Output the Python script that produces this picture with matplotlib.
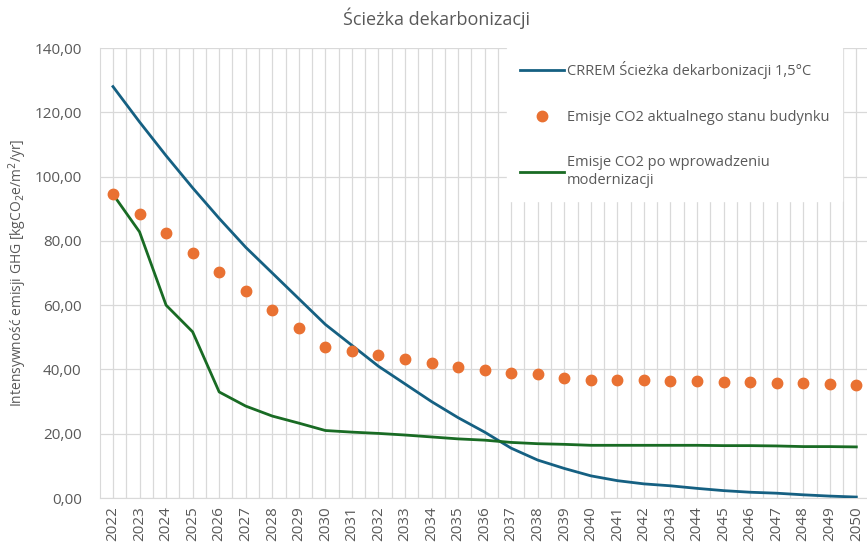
import matplotlib.pyplot as plt
import numpy as np

plt.rcParams['font.family'] = ['Open Sans', 'DejaVu Sans']

years = [str(y) for y in range(2022, 2051)]

# CRREM 1.5C decarbonisation pathway
crrem = [128.0, 117.0, 106.5, 96.5, 87.0, 78.0, 70.0, 62.0, 54.0, 47.5,
         41.0, 35.5, 30.0, 25.0, 20.5, 15.5, 11.8, 9.2, 6.9, 5.4,
         4.4, 3.8, 3.0, 2.3, 1.8, 1.5, 1.0, 0.6, 0.3]

# current building emissions
current = [94.5, 88.5, 82.3, 76.1, 70.4, 64.4, 58.5, 52.8, 46.9, 45.7,
           44.4, 43.1, 41.9, 40.8, 39.8, 39.0, 38.5, 37.4, 36.7, 36.7,
           36.7, 36.5, 36.4, 36.2, 36.0, 35.9, 35.7, 35.5, 35.1]

# emissions after modernisation
modern = [94.5, 82.8, 60.0, 51.7, 33.0, 28.6, 25.5, 23.3, 21.0, 20.5,
          20.1, 19.6, 19.0, 18.4, 18.0, 17.3, 16.9, 16.7, 16.4, 16.4,
          16.4, 16.4, 16.4, 16.3, 16.3, 16.2, 16.0, 16.0, 15.9]

x = np.arange(len(years))

fig = plt.figure(figsize=(8.67, 5.45), dpi=100)
ax = fig.add_axes([0.115, 0.0862, 0.888, 0.8257])

ax.plot(x, crrem, color='#156082', lw=2, label='CRREM Ścieżka dekarbonizacji 1,5°C', zorder=3)
ax.plot(x, current, 'o', color='#E97132', ms=7.5, label='Emisje CO2 aktualnego stanu budynku', zorder=4)
ax.plot(x, modern, color='#196B24', lw=2, label='Emisje CO2 po wprowadzeniu\nmodernizacji', zorder=3)

ax.set_xlim(-0.5, len(years) - 0.5)
ax.set_ylim(0, 140)
ax.set_yticks(np.arange(0, 141, 20))
ax.set_yticklabels([f'{v:.2f}'.replace('.', ',') for v in np.arange(0, 141, 20)])
ax.set_xticks(x)
ax.set_xticklabels(years, rotation=90)
ax.set_xticks(x[:-1] + 0.5, minor=True)
ax.tick_params(axis='both', which='both', length=0, labelsize=11, labelcolor='#595959')
ax.tick_params(axis='x', pad=6)
ax.tick_params(axis='y', pad=13)
ax.grid(True, which='both', color='#d9d9d9', lw=0.9)
ax.set_axisbelow(True)
for s in ['top', 'right']:
    ax.spines[s].set_visible(False)
for s in ['left', 'bottom']:
    ax.spines[s].set_color('#d9d9d9')

ax.set_ylabel('Intensywność emisji GHG [kgCO$_2$e/m$^2$/yr]', fontsize=10, color='#595959', labelpad=4)
fig.text(0.504, 0.967, 'Ścieżka dekarbonizacji', ha='center', va='center', fontsize=13, color='#595959')

leg = ax.legend(loc='upper left', bbox_to_anchor=(507 / 867, 1 - 48 / 545),
                bbox_transform=fig.transFigure, frameon=True, fancybox=False,
                fontsize=10.5, labelspacing=2.1, handlelength=3.0, handletextpad=0.2,
                borderpad=0.9, borderaxespad=0)
leg.get_frame().set_facecolor('white')
leg.get_frame().set_edgecolor('white')
leg.get_frame().set_alpha(1)
for t in leg.get_texts():
    t.set_color('#595959')

fig.savefig('out.png', dpi=100)
